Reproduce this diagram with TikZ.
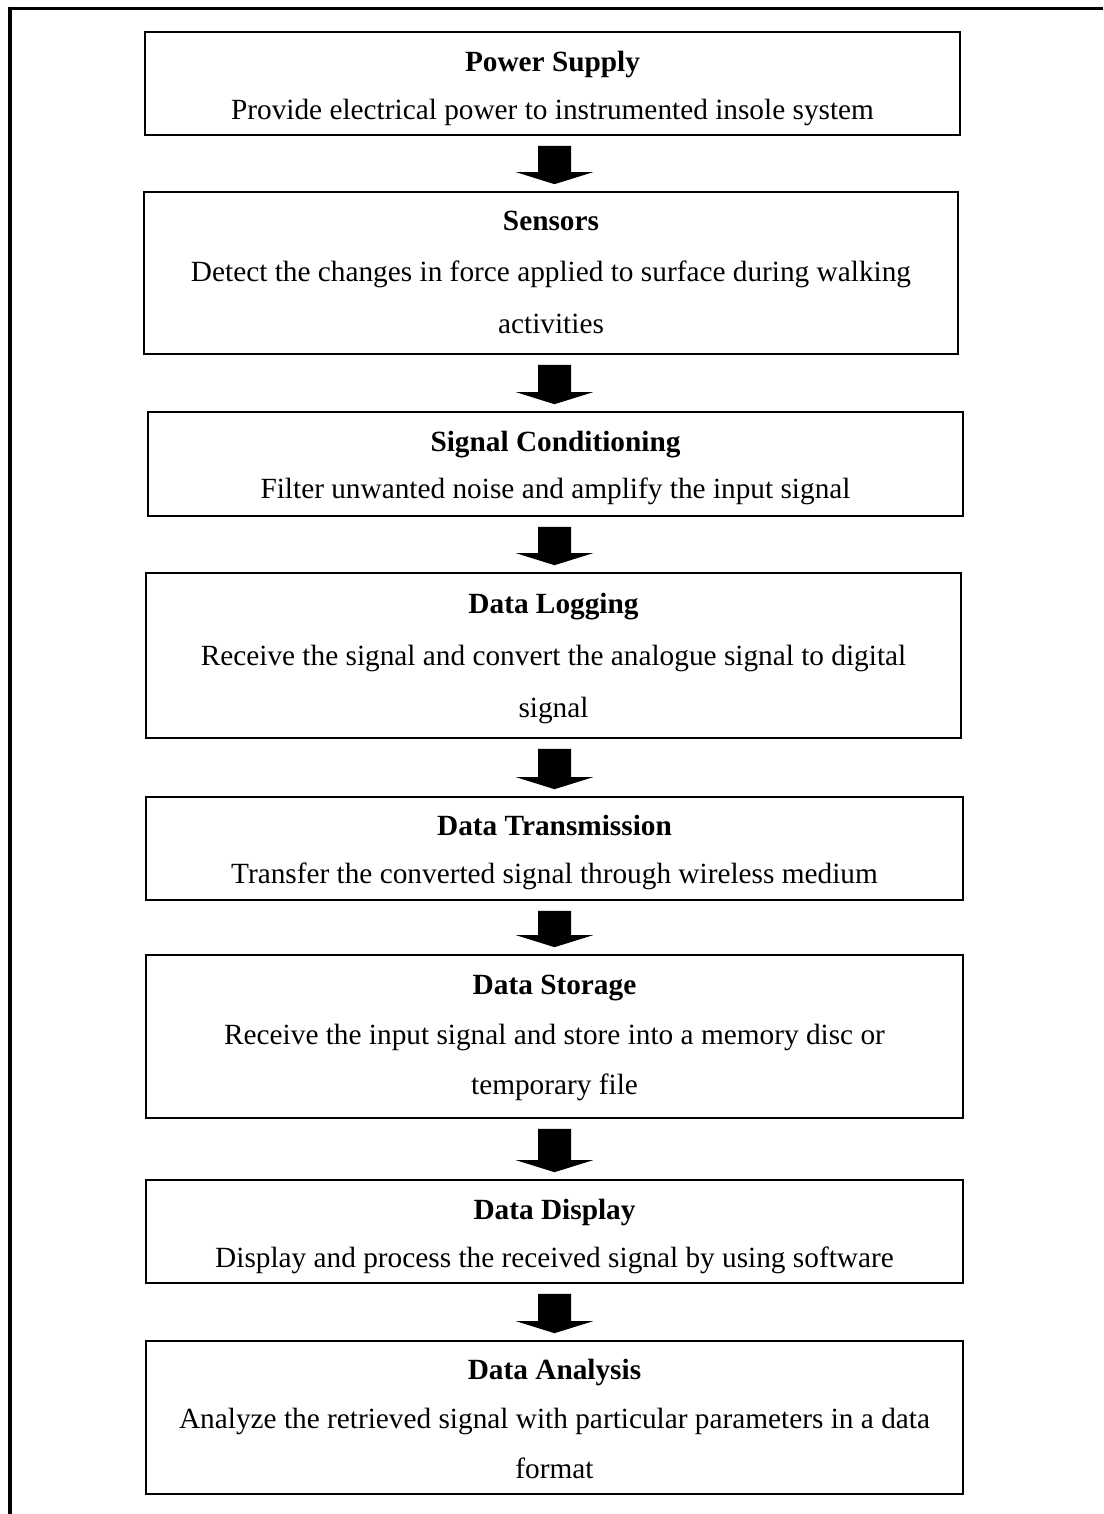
\documentclass[tikz,border=0pt]{standalone}
\usepackage{fontspec}
\setmainfont{Liberation Serif}
\usetikzlibrary{calc}

\tikzset{
  stagebox/.style={draw=black, line width=1.6pt, inner sep=0pt, fill=white},
  stagetitle/.style={anchor=base, inner sep=0pt, font=\fontsize{29.3}{34}\selectfont\bfseries},
  stagetext/.style={anchor=base, inner sep=0pt, font=\fontsize{29.3}{34}\selectfont},
  frameline/.style={line width=#1, line cap=butt}
}

% Block arrow from the bottom of one stage to the top of the next
\newcommand\flowarrow[2]{%
  \fill[black] let \p1=(#1.south), \p2=(#2.north) in
    (538pt,{\y1-10pt}) -- (571pt,{\y1-10pt}) -- (571pt,{\y2+19pt}) --
    (593pt,{\y2+19pt}) -- (554.5pt,{\y2+7pt}) -- (516pt,{\y2+19pt}) --
    (538pt,{\y2+19pt}) -- cycle;}

\begin{document}
\begin{tikzpicture}[x=1pt,y=1pt]
\useasboundingbox (0,0) rectangle (1103,1514);

% outer frame (top and left edges)
\draw[frameline=3.3pt] (8,1505.7) -- (1103,1505.7);
\draw[frameline=4pt] (10,1507.3) -- (10,0);

% stages
\node[stagebox, minimum width=815, minimum height=103] (b1) at (552.5,1430.5) {};
\node[stagetitle] (t1) at ($(b1.north)+(0,-40)$) {Power Supply};
\node[stagetext] (d1) at ($(b1.north)+(0,-88)$) {Provide electrical power to instrumented insole system};

\node[stagebox, minimum width=814, minimum height=162] (b2) at (551,1241) {};
\node[stagetitle] (t2) at ($(b2.north)+(0,-39)$) {Sensors};
\node[stagetext] (d2a) at ($(b2.north)+(0,-90)$) {Detect the changes in force applied to surface during walking};
\node[stagetext] (d2b) at ($(b2.north)+(0,-142)$) {activities};

\node[stagebox, minimum width=815, minimum height=104] (b3) at (555.5,1050) {};
\node[stagetitle] (t3) at ($(b3.north)+(0,-40)$) {Signal Conditioning};
\node[stagetext] (d3) at ($(b3.north)+(0,-87)$) {Filter unwanted noise and amplify the input signal};

\node[stagebox, minimum width=815, minimum height=165] (b4) at (553.5,858.5) {};
\node[stagetitle] (t4) at ($(b4.north)+(0,-41)$) {Data Logging};
\node[stagetext] (d4a) at ($(b4.north)+(0,-93)$) {Receive the signal and convert the analogue signal to digital};
\node[stagetext] (d4b) at ($(b4.north)+(0,-145)$) {signal};

\node[stagebox, minimum width=817, minimum height=103] (b5) at (554.5,665.5) {};
\node[stagetitle] (t5) at ($(b5.north)+(0,-39)$) {Data Transmission};
\node[stagetext] (d5) at ($(b5.north)+(0,-87)$) {Transfer the converted signal through wireless medium};

\node[stagebox, minimum width=817, minimum height=163] (b6) at (554.5,477.5) {};
\node[stagetitle] (t6) at ($(b6.north)+(0,-40)$) {Data Storage};
\node[stagetext] (d6a) at ($(b6.north)+(0,-90)$) {Receive the input signal and store into a memory disc or};
\node[stagetext] (d6b) at ($(b6.north)+(0,-140)$) {temporary file};

\node[stagebox, minimum width=817, minimum height=103] (b7) at (554.5,282.5) {};
\node[stagetitle] (t7) at ($(b7.north)+(0,-40)$) {Data Display};
\node[stagetext] (d7) at ($(b7.north)+(0,-88)$) {Display and process the received signal by using software};

\node[stagebox, minimum width=817, minimum height=153] (b8) at (554.5,96.5) {};
\node[stagetitle] (t8) at ($(b8.north)+(0,-39)$) {Data Analysis};
\node[stagetext] (d8a) at ($(b8.north)+(0,-88)$) {Analyze the retrieved signal with particular parameters in a data};
\node[stagetext] (d8b) at ($(b8.north)+(0,-138)$) {format};

% arrows between consecutive stages
\flowarrow{b1}{b2}
\flowarrow{b2}{b3}
\flowarrow{b3}{b4}
\flowarrow{b4}{b5}
\flowarrow{b5}{b6}
\flowarrow{b6}{b7}
\flowarrow{b7}{b8}
\end{tikzpicture}
\end{document}
